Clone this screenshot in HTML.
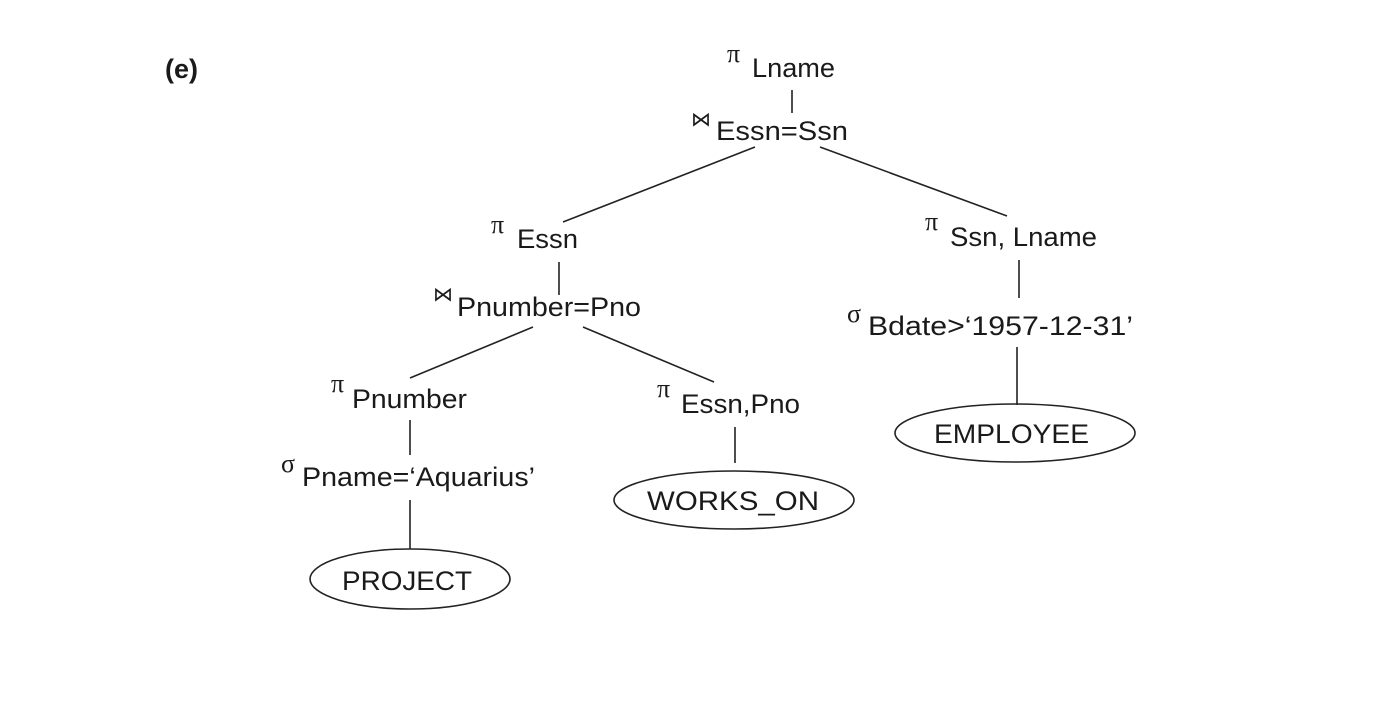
<!DOCTYPE html>
<html><head><style>
html,body{margin:0;padding:0;background:#fff;width:1380px;height:710px;overflow:hidden}
text{font-family:"Liberation Sans",sans-serif;fill:#1a1a1a}
.t{font-size:27px}
.s{font-size:26px;font-family:"Liberation Serif",serif}
</style></head><body>
<svg width="1380" height="710" viewBox="0 0 1380 710" xmlns="http://www.w3.org/2000/svg">
<g stroke="#222" stroke-width="1.6" fill="none">
<line x1="792" y1="90" x2="792" y2="113"/>
<line x1="755" y1="147" x2="563" y2="222"/>
<line x1="820" y1="147" x2="1007" y2="216"/>
<line x1="559" y1="262" x2="559" y2="295"/>
<line x1="533" y1="327" x2="410" y2="378"/>
<line x1="583" y1="327" x2="714" y2="382"/>
<line x1="410" y1="420" x2="410" y2="455"/>
<line x1="410" y1="500" x2="410" y2="549"/>
<line x1="735" y1="427" x2="735" y2="463"/>
<line x1="1019" y1="260" x2="1019" y2="298"/>
<line x1="1017" y1="347" x2="1017" y2="405"/>
<ellipse cx="410" cy="579" rx="100" ry="30"/>
<ellipse cx="734" cy="500" rx="120" ry="29"/>
<ellipse cx="1015" cy="433" rx="120" ry="29"/>
</g>
<text x="165" y="78" class="t" style="font-weight:bold">(e)</text>
<text x="727" y="62" class="s">π</text><text x="752" y="77" class="t" textLength="83" lengthAdjust="spacingAndGlyphs">Lname</text>
<text x="691" y="126" style="font-size:20px">⋈</text><text x="716" y="140" class="t" textLength="132" lengthAdjust="spacingAndGlyphs">Essn=Ssn</text>
<text x="491" y="233" class="s">π</text><text x="517" y="248" class="t" textLength="61" lengthAdjust="spacingAndGlyphs">Essn</text>
<text x="433" y="301" style="font-size:20px">⋈</text><text x="457" y="316" class="t" textLength="184" lengthAdjust="spacingAndGlyphs">Pnumber=Pno</text>
<text x="331" y="392" class="s">π</text><text x="352" y="408" class="t" textLength="115" lengthAdjust="spacingAndGlyphs">Pnumber</text>
<text x="281" y="472" class="s">σ</text><text x="302" y="486" class="t" textLength="233" lengthAdjust="spacingAndGlyphs">Pname=‘Aquarius’</text>
<text x="342" y="590" class="t" textLength="130" lengthAdjust="spacingAndGlyphs">PROJECT</text>
<text x="657" y="397" class="s">π</text><text x="681" y="413" class="t" textLength="119" lengthAdjust="spacingAndGlyphs">Essn,Pno</text>
<text x="647" y="510" class="t" textLength="172" lengthAdjust="spacingAndGlyphs">WORKS_ON</text>
<text x="925" y="230" class="s">π</text><text x="950" y="246" class="t" textLength="147" lengthAdjust="spacingAndGlyphs">Ssn, Lname</text>
<text x="847" y="322" class="s">σ</text><text x="868" y="335" class="t" textLength="265" lengthAdjust="spacingAndGlyphs">Bdate&gt;‘1957-12-31’</text>
<text x="934" y="443" class="t" textLength="155" lengthAdjust="spacingAndGlyphs">EMPLOYEE</text>
</svg>
</body></html>
